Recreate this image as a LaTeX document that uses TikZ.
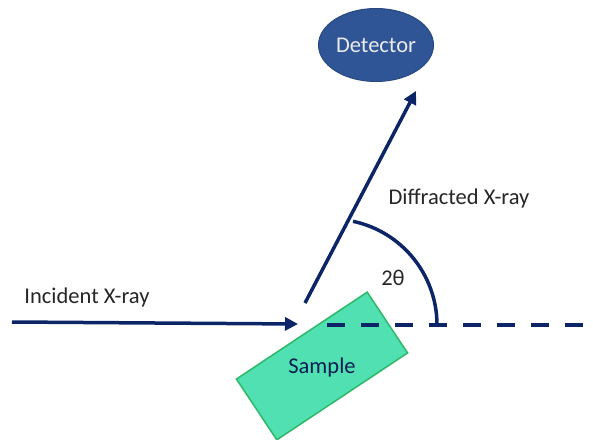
\documentclass[tikz,border=0pt]{standalone}
\usepackage{fontspec}
\setmainfont{Carlito}
\usetikzlibrary{arrows.meta,shapes.geometric}
\definecolor{navy}{HTML}{0B2566}
\definecolor{detblue}{HTML}{2F5597}
\definecolor{samplegreen}{HTML}{50E0B2}
\definecolor{sampleedge}{HTML}{2DB868}
\tikzset{
  ray/.style={navy, line width=3.5pt, -{Triangle[length=13pt,width=13pt]}},
  label/.style={font=\fontsize{22.5}{27}\selectfont, text=black!85},
}
\begin{document}
\begin{tikzpicture}[x=1pt,y=1pt]
\useasboundingbox (0,0) rectangle (593,439);
% sample plate, tilted
\node[draw=sampleedge, fill=samplegreen, line width=1.5pt, minimum width=157pt, minimum height=73pt, rotate=33.6, inner sep=0pt] (sample) at (322,73) {};
\node[label, text=navy!80!black] (samplelbl) at (322,72) {Sample};
% detector
\node[ellipse, draw=detblue!85!black, fill=detblue, line width=1pt, minimum width=115pt, minimum height=73pt] (det) at (376,394) {};
\node[label, text=white!92!black] (detlbl) at (376,394) {Detector};
% beams
\coordinate (src) at (12,117);
\coordinate (hit) at (298,115);
\coordinate (out) at (305,136);
\coordinate (tip) at (416,348);
\coordinate (dashA) at (327,114);
\coordinate (dashB) at (583,114);
\draw[navy, line width=4pt, dash pattern=on 18pt off 16pt] (dashA) -- (dashB);
\draw[ray] (src) -- (hit);
\draw[ray] (out) -- (tip);
% scattering angle
\draw[navy, line width=3.5pt] (437,114) arc (0:78:106);
\node[label] (inc) at (87,141) {Incident X-ray};
\node[label] (dif) at (459,240) {Diffracted X-ray};
\node[label] (ang) at (393,161) {2θ};
\end{tikzpicture}
\end{document}
